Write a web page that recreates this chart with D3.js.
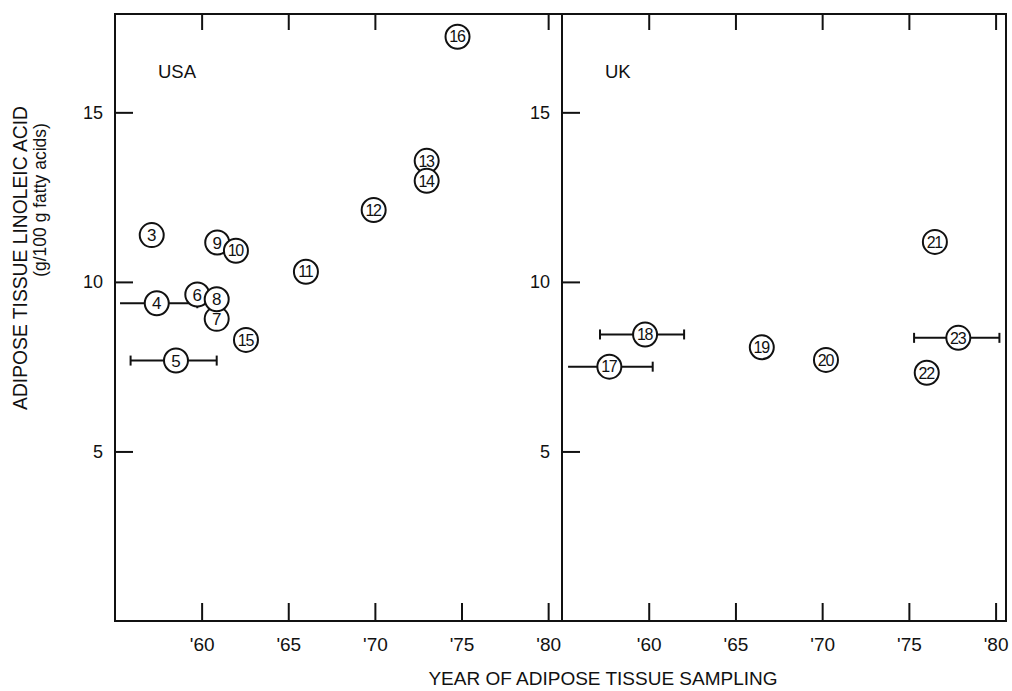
<!DOCTYPE html>
<html><head><meta charset="utf-8">
<script src="https://cdn.jsdelivr.net/npm/d3@7"></script>
<style>
html,body{margin:0;padding:0;background:#fff;}
svg text{font-family:"Liberation Sans",Arial,Helvetica,sans-serif;fill:#111;}
</style></head>
<body>
<svg id="chart" width="1012" height="691"></svg>
<script>
// ---- data ----
const usaIds    = [3, 4, 5, 6, 7, 8, 9, 10, 11, 12, 13, 14, 15, 16];
const usaYears  = [57.12, 57.41, 58.52, 59.75, 60.87, 60.87, 60.9, 61.98, 66.02, 69.93, 72.99, 72.99, 62.56, 74.77];
const usaValues = [11.38, 9.37, 7.68, 9.63, 8.91, 9.49, 11.16, 10.92, 10.30, 12.12, 13.57, 12.98, 8.29, 17.23];
const usaErrLow  = [null, 55.29, 55.9, null, null, null, null, null, null, null, null, null, null, null];
const usaErrHigh = [null, 59.75, 60.87, null, null, null, null, null, null, null, null, null, null, null];

const ukIds    = [17, 18, 19, 20, 21, 22, 23];
const ukYears  = [57.73, 59.79, 66.52, 70.22, 76.5, 76.03, 77.85];
const ukValues = [7.50, 8.45, 8.07, 7.70, 11.18, 7.32, 8.35];
const ukErrLow  = [55.35, 57.19, null, null, null, null, 75.30];
const ukErrHigh = [60.23, 62.04, null, null, null, null, 80.22];

const xTickValues = [60, 65, 70, 75, 80];
const xTickLabels = ["'60", "'65", "'70", "'75", "'80"];
const usaTopTicks = [60, 65, 70, 80];
const ukTopTicks  = [60, 65, 70, 75, 80];
const yTickValues = [5, 10, 15];
const panelNames = ["USA", "UK"];

// ---- layout ----
const svg = d3.select("#chart");
const plotTop = 14, plotBottom = 621;
const y = d3.scaleLinear().domain([0, 17.9]).range([plotBottom, plotTop]);
const xUSA = d3.scaleLinear().domain([55, 80.8]).range([115, 562]);
const xUK  = d3.scaleLinear().domain([55, 80.6]).range([562, 1006]);

function drawPanel(x, ids, years, values, lo, hi, topTicks, name) {
  const g = svg.append("g");
  const [x0, x1] = x.range();
  // frame
  g.append("rect").attr("x", x0).attr("y", plotTop).attr("width", x1 - x0).attr("height", plotBottom - plotTop)
    .attr("fill", "none").attr("stroke", "#111").attr("stroke-width", 2);

  // bottom axis
  const bAx = d3.axisBottom(x).tickValues(xTickValues)
    .tickFormat((d, i) => xTickLabels[i]).tickSize(-18).tickSizeOuter(0).tickPadding(17);
  const bg = g.append("g").attr("transform", `translate(0,${plotBottom})`).call(bAx);
  bg.select(".domain").remove();
  bg.selectAll("line").attr("stroke", "#111").attr("stroke-width", 2);
  bg.selectAll("text").attr("font-size", 19).attr("fill", "#111");

  // top axis
  const tAx = d3.axisTop(x).tickValues(topTicks).tickFormat("").tickSize(-16).tickSizeOuter(0);
  const tg = g.append("g").attr("transform", `translate(0,${plotTop})`).call(tAx);
  tg.select(".domain").remove();
  tg.selectAll("line").attr("stroke", "#111").attr("stroke-width", 2);

  // left axis
  const lAx = d3.axisLeft(y).tickValues(yTickValues).tickSize(-18).tickSizeOuter(0).tickPadding(12);
  const lg = g.append("g").attr("transform", `translate(${x0},0)`).call(lAx);
  lg.select(".domain").remove();
  lg.selectAll("line").attr("stroke", "#111").attr("stroke-width", 2);
  lg.selectAll("text").attr("font-size", 18).attr("fill", "#111");

  // panel name
  g.append("text").attr("x", x0 + 43).attr("y", 78).attr("font-size", 18.5).text(name);

  const pts = ids.map((id, i) => ({id, yr: years[i], v: values[i], lo: lo[i], hi: hi[i]}));

  // error bars
  pts.filter(d => d.lo != null).forEach(d => {
    const yy = y(d.v);
    g.append("line").attr("x1", x(d.lo)).attr("x2", x(d.hi)).attr("y1", yy).attr("y2", yy)
      .attr("stroke", "#111").attr("stroke-width", 2);
    [d.lo, d.hi].forEach((e, k) => {
      if (k === 0 && e < 55.6) return;
      g.append("line").attr("x1", x(e)).attr("x2", x(e)).attr("y1", yy - 5).attr("y2", yy + 5)
        .attr("stroke", "#111").attr("stroke-width", 2);
    });
  });

  // circles with numbers
  const pg = g.selectAll("g.pt").data(pts).enter().append("g").attr("class", "pt")
    .attr("transform", d => `translate(${x(d.yr)},${y(d.v)})`);
  pg.append("circle").attr("r", 12).attr("fill", "#fff").attr("stroke", "#111").attr("stroke-width", 2);
  pg.append("text").attr("text-anchor", "middle").attr("dy", "0.36em")
    .attr("font-size", d => d.id >= 10 ? 16 : 17)
    .attr("letter-spacing", d => d.id >= 10 ? -1.3 : 0)
    .attr("dx", d => d.id >= 10 ? -0.6 : 0)
    .text(d => d.id);
}

drawPanel(xUSA, usaIds, usaYears, usaValues, usaErrLow, usaErrHigh, usaTopTicks, panelNames[0]);
drawPanel(xUK, ukIds, ukYears, ukValues, ukErrLow, ukErrHigh, ukTopTicks, panelNames[1]);

// axis titles
svg.append("text").attr("transform", "translate(27,258) rotate(-90)").attr("text-anchor", "middle")
  .attr("font-size", 19.3).text("ADIPOSE TISSUE LINOLEIC ACID");
svg.append("text").attr("transform", "translate(46,200) rotate(-90)").attr("text-anchor", "middle")
  .attr("font-size", 17.5).text("(g/100 g fatty acids)");
svg.append("text").attr("x", 603).attr("y", 685).attr("text-anchor", "middle")
  .attr("font-size", 19).text("YEAR OF ADIPOSE TISSUE SAMPLING");
</script>
</body></html>
